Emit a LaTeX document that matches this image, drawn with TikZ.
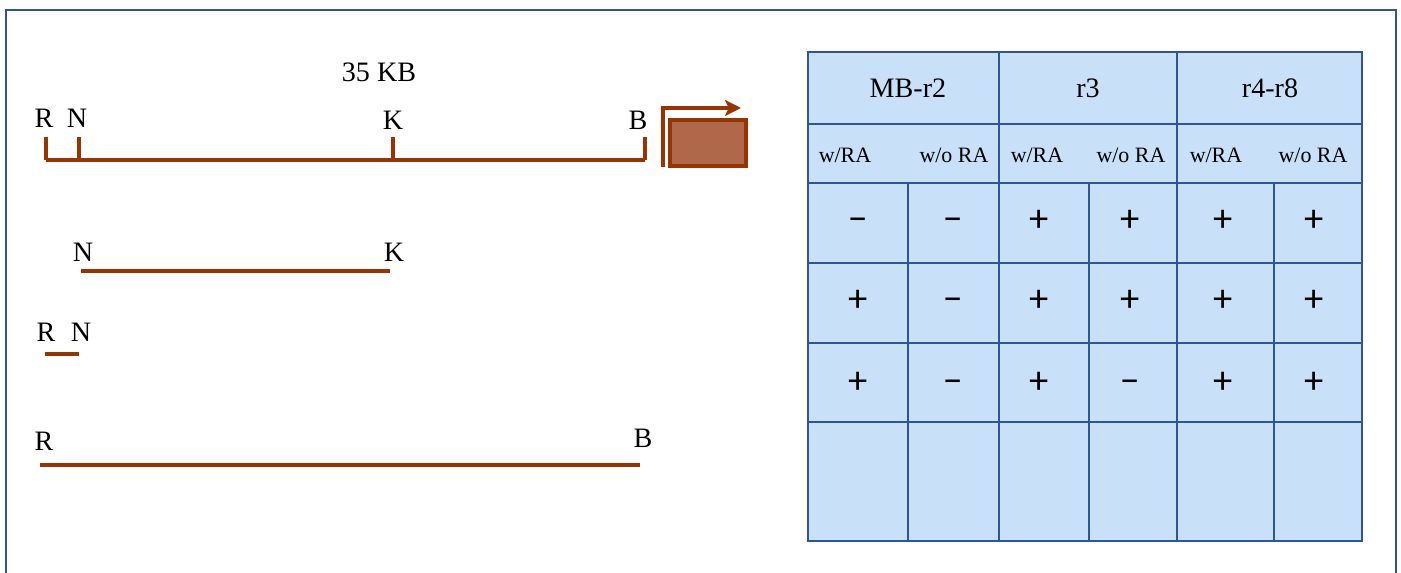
\documentclass[tikz,border=0pt]{standalone}
\usepackage{fontspec}
\setmainfont{Liberation Serif}
\newfontfamily\signfont{Carlito}
\usetikzlibrary{arrows.meta}

\definecolor{rust}{RGB}{153,51,0}
\definecolor{rustfill}{RGB}{175,104,73}
\definecolor{frameblue}{RGB}{47,85,151}
\definecolor{cellblue}{RGB}{200,225,248}

\begin{document}
\begin{tikzpicture}[x=0.02cm, y=-0.02cm,
    site/.style={font=\fontsize{16}{18}\selectfont, inner sep=0pt},
    frag/.style={rust, line width=2.4pt},
    grid/.style={frameblue, line width=1.5pt},
    head/.style={font=\fontsize{16}{18}\selectfont, inner sep=0pt},
    sub/.style={font=\fontsize{12.5}{14}\selectfont, inner sep=0pt},
    sign/.style={font=\signfont\fontsize{22}{24}\selectfont, inner sep=0pt, anchor=base}]
    \useasboundingbox (0,0) rectangle (1401,573);

    % frame, open at the bottom
    \draw[frameblue, line width=1.5pt] (6,590) -- (6,10) -- (1396,10) -- (1396,590);

    % full region with sites
    \node[site] (size) at (379,72) {35 KB};
    \coordinate (r1) at (46,160);
    \coordinate (n1) at (79,160);
    \coordinate (k1) at (393,160);
    \coordinate (b1) at (645,160);
    \draw[frag] (r1) -- (b1);
    \draw[frag] (r1) -- ++(0,-23);
    \draw[frag] (n1) -- ++(0,-23);
    \draw[frag] (k1) -- ++(0,-23);
    \draw[frag] (b1) -- ++(0,-23);
    \node[site] (lr1) at (44,118) {R};
    \node[site] (ln1) at (77,118) {N};
    \node[site] (lk1) at (393,120) {K};
    \node[site] (lb1) at (638,120) {B};

    % promoter and gene
    \coordinate (p0) at (663,167);
    \coordinate (p1) at (663,108);
    \coordinate (p2) at (741,108);
    \draw[rust, line width=1.8pt, -{Stealth[length=9pt,width=9pt,inset=2pt]}] (p0) -- (p1) -- (p2);
    \draw[rust, line width=2.2pt, fill=rustfill] (670,120) rectangle (746,166);

    % N-K fragment
    \coordinate (n2) at (81,271);
    \coordinate (k2) at (390,271);
    \draw[frag] (n2) -- (k2);
    \node[site] (ln2) at (83,252) {N};
    \node[site] (lk2) at (394,252) {K};

    % R-N fragment
    \coordinate (r3) at (45,354);
    \coordinate (n3) at (79,354);
    \draw[frag] (r3) -- (n3);
    \node[site] (lr3) at (46,332) {R};
    \node[site] (ln3) at (81,332) {N};

    % R-B fragment
    \coordinate (r4) at (40,465);
    \coordinate (b4) at (640,465);
    \draw[frag] (r4) -- (b4);
    \node[site] (lr4) at (44,441) {R};
    \node[site] (lb4) at (643,438) {B};

    % table
    \fill[cellblue] (808,52) rectangle (1362,541);
    \draw[grid] (808,52) rectangle (1362,541);
    \foreach \y in {124,183,263,343,422}
      \draw[grid] (808,\y) -- (1362,\y);
    \foreach \x in {999,1177}
      \draw[grid] (\x,52) -- (\x,541);
    \foreach \x in {908,1089,1274}
      \draw[grid] (\x,183) -- (\x,541);

    \node[head] (mb) at (908,88) {MB-r2};
    \node[head] (rthree) at (1088,88) {r3};
    \node[head] (rfour) at (1270,88) {r4-r8};

    \node[sub] (wa) at (845,155) {w/RA};
    \node[sub] (woa) at (954,155) {w/o RA};
    \node[sub] (wb) at (1037,155) {w/RA};
    \node[sub] (wob) at (1131,155) {w/o RA};
    \node[sub] (wc) at (1216,155) {w/RA};
    \node[sub] (woc) at (1313,155) {w/o RA};

    % results (baselines)
    \foreach \x/\s [count=\i] in {858/−,953/−,1039/+,1130/+,1223/+,1314/+}
      \node[sign] (ra\i) at (\x,232) {\s};
    \foreach \x/\s [count=\i] in {858/+,953/−,1039/+,1130/+,1223/+,1314/+}
      \node[sign] (rb\i) at (\x,312) {\s};
    \foreach \x/\s [count=\i] in {858/+,953/−,1039/+,1130/−,1223/+,1314/+}
      \node[sign] (rc\i) at (\x,394) {\s};
  \end{tikzpicture}
\end{document}
